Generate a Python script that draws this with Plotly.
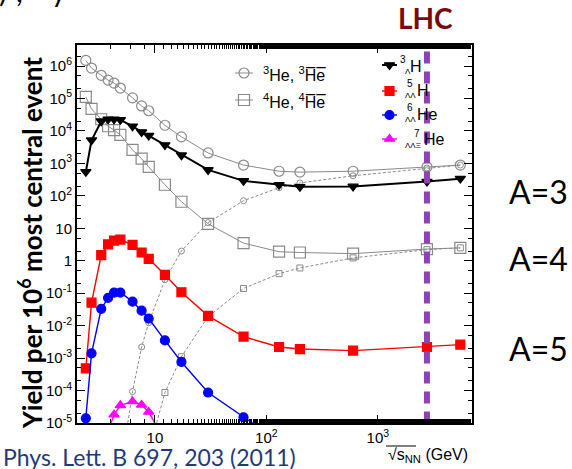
import numpy as np
import plotly.graph_objects as go

# ---- data: collision energy sqrt(s_NN) in GeV and yields per 10^6 central events ----
energies = [2.4, 2.7, 3.3, 3.8, 4.3, 4.9, 6.3, 7.6, 8.8, 12.3, 17.3, 30, 62.4, 130, 200, 600, 2760, 5500]

he3 = [1.5e6, 8.7e5, 5.2e5, 3.7e5, 3.0e5, 2.1e5, 1.05e5, 5.9e4, 4.2e4, 1.5e4, 6.6e3, 2.1e3,
       890, 575, 540, 575, 780, 890]
he4 = [1.12e5, 4.8e4, 2.3e4, 1.4e4, 1.07e4, 7.6e3, 2.6e3, 1.4e3, 780, 220, 66, 13.8,
       3.5, 1.9, 1.8, 1.66, 2.3, 2.5]

anti_he3_energies = [4.9, 6.3, 7.6, 8.8, 12.3, 17.3, 30, 62.4, 130, 200, 600, 2760, 5500]
anti_he3 = [3e-7, 9.3e-5, 2.2e-3, 1.23e-2, 0.26, 2.0, 15, 71, 178, 250, 417, 724, 890]

anti_he4_energies = [8.8, 12.3, 17.3, 30, 62.4, 130, 200, 600, 2760, 5500]
anti_he4 = [1.3e-6, 8.7e-5, 1.1e-3, 1.9e-2, 0.14, 0.4, 0.6, 1.23, 2.2, 2.5]

h3_lambda = [550, 5.2e3, 2.0e4, 2.3e4, 2.3e4, 2.2e4, 1.4e4, 9.3e3, 7.2e3, 3.7e3, 1.8e3, 630,
             290, 220, 190, 195, 275, 340]
h5_ll = [4.8e-4, 5.1e-2, 1.5, 3.2, 4.2, 4.5, 3.1, 1.8, 1.15, 0.37, 0.107, 0.02,
         4.6e-3, 2.2e-3, 1.9e-3, 1.7e-3, 2.2e-3, 2.6e-3]

he6_ll_energies = [2.4, 2.7, 3.3, 3.8, 4.3, 4.9, 6.3, 7.6, 8.8, 12.3, 17.3, 30, 62.4, 130]
he6_ll = [1.4e-5, 1.4e-3, 3.3e-2, 7.2e-2, 0.105, 0.105, 5.5e-2, 2.9e-2, 1.66e-2, 3.5e-3,
          7.6e-4, 8.7e-5, 1.5e-5, 2.7e-6]

he7_llx_energies = [3.8, 4.3, 4.9, 6.3, 7.6, 8.8, 12.3]
he7_llx = [5.5e-6, 1.8e-5, 3.5e-5, 4.6e-5, 3.6e-5, 2.2e-5, 2.7e-6]

LHC_ENERGY = 2760

y_tick_vals = [1e-5, 1e-4, 1e-3, 1e-2, 1e-1, 1, 10, 1e2, 1e3, 1e4, 1e5, 1e6]
y_tick_text = ["10<sup>-5</sup>", "10<sup>-4</sup>", "10<sup>-3</sup>", "10<sup>-2</sup>",
               "10<sup>-1</sup>", "1", "10", "10<sup>2</sup>", "10<sup>3</sup>",
               "10<sup>4</sup>", "10<sup>5</sup>", "10<sup>6</sup>"]
x_tick_vals = [10, 100, 1000]
x_tick_text = ["10", "10<sup>2</sup>", "10<sup>3</sup>"]

# ---- layout geometry (pixels) ----
W, H = 572, 469
L, R, T, B = 77, 100, 45, 46
PW, PH = W - L - R, H - T - B


def fx(x):
    return (x - L) / PW


def fy(y):
    return (H - B - y) / PH


GRAY = "#8a8a8a"
AXFONT = dict(family="Liberation Sans, Arial, sans-serif", size=15, color="black")
SLIDE = "Lato, Open Sans, sans-serif"

fig = go.Figure()


def series(x, y, color, symbol, size, width, dash="solid", fill=True, mwidth=1.2):
    fig.add_trace(go.Scatter(
        x=x, y=y, mode="lines+markers",
        line=dict(color=color, width=width, dash=dash),
        marker=dict(symbol=symbol if fill else symbol + "-open", size=size,
                    color=color, line=dict(color=color, width=mwidth)),
        showlegend=False, cliponaxis=True,
    ))


series(anti_he3_energies, anti_he3, GRAY, "circle", 6, 1, dash="3px,2px", fill=False, mwidth=1)
series(anti_he4_energies, anti_he4, GRAY, "square", 6, 1, dash="3px,2px", fill=False, mwidth=1)
series(energies, he3, GRAY, "circle", 10, 1, fill=False)
series(energies, he4, GRAY, "square", 11, 1, fill=False)
series(energies, h3_lambda, "black", "triangle-down", 9, 2)
series(energies, h5_ll, "#ff0000", "square", 9, 1.4)
series(he6_ll_energies, he6_ll, "#0000ff", "circle", 9, 1.4)
series(he7_llx_energies, he7_llx, "#ff00ff", "triangle-up", 9, 1.4)

# LHC energy marker
fig.add_trace(go.Scatter(
    x=[LHC_ENERGY, LHC_ENERGY], y=[10 ** 6.45, 1e-5], mode="lines",
    line=dict(color="#8e44b0", width=6, dash="12px,8px"),
    showlegend=False, hoverinfo="skip",
))

# ---- legend samples on an overlay axis spanning the plot area ----
legend_rows = [
    # (line x0, x1, y, color, symbol, size, width)
    (235, 253, 73, GRAY, "circle-open", 10, 1),
    (235, 253, 100, GRAY, "square-open", 11, 1),
    (382, 397, 65, "black", "triangle-down", 9, 2),
    (382, 397, 91, "#ff0000", "square", 9, 1.4),
    (382, 397, 115, "#0000ff", "circle", 9, 1.4),
    (382, 397, 139, "#ff00ff", "triangle-up", 9, 1.4),
]
for x0, x1, yy, col, sym, sz, lw in legend_rows:
    fig.add_trace(go.Scatter(
        x=[fx(x0), fx(x1)], y=[fy(yy), fy(yy)], mode="lines",
        line=dict(color=col, width=lw), xaxis="x2", yaxis="y2",
        showlegend=False, hoverinfo="skip"))
    fig.add_trace(go.Scatter(
        x=[fx((x0 + x1) / 2)], y=[fy(yy)], mode="markers",
        marker=dict(symbol=sym, size=sz, color=col, line=dict(color=col, width=1.2)),
        xaxis="x2", yaxis="y2", showlegend=False, hoverinfo="skip"))

ann = []


def text(x, y, s, size, color="black", family="Liberation Sans, Arial, sans-serif",
         xanchor="left", yanchor="middle", angle=0):
    ann.append(dict(x=fx(x), y=fy(y), xref="paper", yref="paper", text=s, showarrow=False,
                    xanchor=xanchor, yanchor=yanchor, textangle=angle,
                    font=dict(family=family, size=size, color=color)))


# left legend labels
text(261, 74, "<sup>3</sup>He, <sup>3</sup>H\u0305e\u0305", 16)
text(261, 101, "<sup>4</sup>He, <sup>4</sup>H\u0305e\u0305", 16)

# right legend labels: stacked mass number / strangeness content before the symbol
hyper = [
    # (script x, sup y, sub y, mass, sub, symbol x, symbol y, symbol)
    (404, 59, 72, "3", "\u039b", 408, 66, "H"),
    (404, 84, 96, "5", "\u039b\u039b", 415, 90, "H"),
    (404, 108, 120, "6", "\u039b\u039b", 415, 114, "He"),
    (404, 133, 145, "7", "\u039b\u039b\u039e", 422, 139, "He"),
]
for sx, sy_up, sy_dn, mass, sub, hx, hy, sym in hyper:
    text(hx, sy_up, mass, 10, xanchor="right")
    text(sx - 1, sy_dn, sub, 8)
    text(hx, hy, sym, 16)

# slide annotations
text(425, 18, "<b>LHC</b>", 28, color="#7a0a0a", family=SLIDE, xanchor="center")
text(538, 191, "A=3", 32, family=SLIDE, xanchor="center")
text(538, 258, "A=4", 32, family=SLIDE, xanchor="center")
text(538, 348, "A=5", 32, family=SLIDE, xanchor="center")
text(1, 457, "Phys. Lett. B 697, 203 (2011)", 23, color="#1f3a7a", family=SLIDE)
text(30, 243, "<b>Yield per 10<sup>6</sup> most central event</b>", 26, family=SLIDE,
     xanchor="center", angle=-90)
text(470, 455, "\u221as<sub>NN</sub> (GeV)", 16, xanchor="right")
# clipped bottom of a line of text above the chart
text(-3, -10, ")", 30, family=SLIDE)
text(14, -10, ",", 30, family=SLIDE)
text(49, -10, "y", 30, family=SLIDE)

fig.update_layout(annotations=ann)
fig.add_shape(type="line", xref="paper", yref="paper", x0=fx(386), x1=fx(416),
              y0=fy(446), y1=fy(446), line=dict(color="black", width=1))

axis_common = dict(showline=True, linecolor="black", linewidth=2, mirror="allticks",
                   ticks="inside", ticklen=8, tickwidth=1, tickcolor="black",
                   showgrid=False, zeroline=False, tickfont=AXFONT,
                   minor=dict(ticks="inside", ticklen=4, tickwidth=1, tickcolor="black",
                              showgrid=False))

fig.update_layout(
    width=W, height=H,
    margin=dict(l=L, r=R, t=T, b=B, autoexpand=False),
    paper_bgcolor="white", plot_bgcolor="white",
    xaxis=dict(type="log", range=[np.log10(2), np.log10(7000)],
               tickvals=x_tick_vals, ticktext=x_tick_text, **axis_common),
    yaxis=dict(type="log", range=[-5, 6.65], tickvals=y_tick_vals, ticktext=y_tick_text,
               **axis_common),
    xaxis2=dict(overlaying="x", range=[0, 1], visible=False),
    yaxis2=dict(overlaying="y", range=[0, 1], visible=False),
)

fig.write_html("out.html")
